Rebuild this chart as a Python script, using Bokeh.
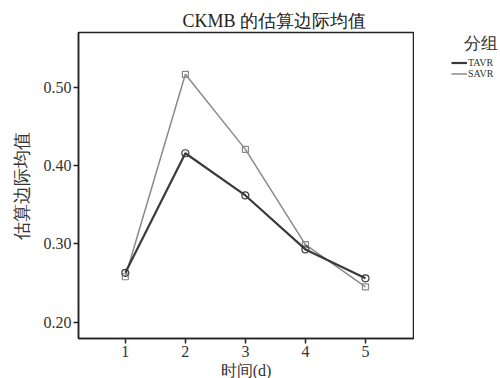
from bokeh.plotting import figure
from bokeh.layouts import row
from bokeh.models import Range1d, FixedTicker, Legend, LegendItem, CustomJSTickFormatter, Title, Label
from bokeh.embed import file_html
from bokeh.resources import INLINE

# Data
times = [1, 2, 3, 4, 5]
tavr = [0.263, 0.416, 0.362, 0.293, 0.256]
savr = [0.258, 0.517, 0.421, 0.299, 0.245]
y_ticks = [0.20, 0.30, 0.40, 0.50]
series_names = ["TAVR", "SAVR"]
title_text = "CKMB 的估算边际均值"
x_label = "时间(d)"
y_label = "估算边际均值"
legend_title = "分组"

FONT = "Liberation Serif"
INK = "#222222"
TXT = "#333333"
C_T = "#3a3a3a"
C_S = "#8a8a8a"

W_MAIN = 414
W_LEG = 86
H = 378
TOP, BOTTOM = 32, 40

p = figure(width=W_MAIN, height=H, output_backend="svg", toolbar_location=None,
           x_range=Range1d(0.22, 5.8), y_range=Range1d(0.179, 0.5705),
           min_border_left=78, min_border_right=1, min_border_top=TOP, min_border_bottom=BOTTOM)
p.title.text = title_text
p.title.align = "left"
p.title.offset = 104
p.title.standoff = 3
p.title.text_font = FONT
p.title.text_font_size = "18px"
p.title.text_font_style = "normal"
p.title.text_color = INK

p.xgrid.visible = False
p.ygrid.visible = False
p.outline_line_color = INK
p.outline_line_width = 1.5
p.background_fill_color = "white"
p.border_fill_color = "white"

for ax in (p.xaxis, p.yaxis):
    ax.axis_line_color = INK
    ax.axis_line_width = 1.5
    ax.major_tick_line_color = INK
    ax.major_tick_line_width = 1.5
    ax.major_tick_in = 0
    ax.major_tick_out = 5
    ax.minor_tick_line_color = None
    ax.major_label_text_font = FONT
    ax.major_label_text_font_size = "16px"
    ax.major_label_text_color = TXT
    ax.major_label_standoff = 2

p.xaxis.ticker = FixedTicker(ticks=times)
p.yaxis.ticker = FixedTicker(ticks=y_ticks)
p.yaxis.formatter = CustomJSTickFormatter(code="return tick.toFixed(2);")
p.yaxis.axis_label = y_label
p.yaxis.axis_label_text_font = FONT
p.yaxis.axis_label_text_font_size = "18px"
p.yaxis.axis_label_text_font_style = "normal"
p.yaxis.axis_label_text_color = TXT
p.yaxis.axis_label_standoff = 9

p.add_layout(Title(text=x_label, align="center", text_font=FONT, text_font_size="16px",
                   text_font_style="normal", text_color=TXT, standoff=0), "below")

p.line(times, savr, line_color=C_S, line_width=1.5)
p.scatter(times, savr, marker="square", size=6, fill_color=None, line_color=C_S, line_width=1.2)
p.line(times, tavr, line_color=C_T, line_width=2.2)
p.scatter(times, tavr, marker="circle", size=7, fill_color=None, line_color=C_T, line_width=1.2)

# Legend panel (its frame is aligned with the main plot's frame by the row layout)
q = figure(width=W_LEG, height=H, output_backend="svg", toolbar_location=None,
           x_range=Range1d(0, W_LEG), y_range=Range1d(BOTTOM, H - TOP),
           x_axis_location=None, y_axis_location=None,
           min_border_left=0, min_border_right=0, min_border_top=TOP, min_border_bottom=BOTTOM)
q.xgrid.visible = False
q.ygrid.visible = False
q.outline_line_color = None
q.background_fill_color = "white"
q.border_fill_color = "white"
# legend proxies: same series, falling outside this panel's visible range
lt = q.line(times, tavr, line_color=C_T, line_width=2.2)
ls = q.line(times, savr, line_color=C_S, line_width=1.5)
q.add_layout(Label(x=66, y=H - 43, text=legend_title, text_align="center", text_baseline="middle",
                   text_font=FONT, text_font_size="17px", text_color=TXT))
legend = Legend(items=[LegendItem(label=series_names[0], renderers=[lt]),
                       LegendItem(label=series_names[1], renderers=[ls])],
                location=(37, 259), orientation="vertical",
                glyph_width=16, glyph_height=11, label_height=11, label_width=20,
                label_standoff=1, spacing=0, padding=0, margin=0,
                label_text_font=FONT, label_text_font_size="10px", label_text_color=TXT,
                background_fill_alpha=0, border_line_color=None)
q.add_layout(legend, "center")

open("out.html", "w").write(file_html(row(p, q), INLINE))
